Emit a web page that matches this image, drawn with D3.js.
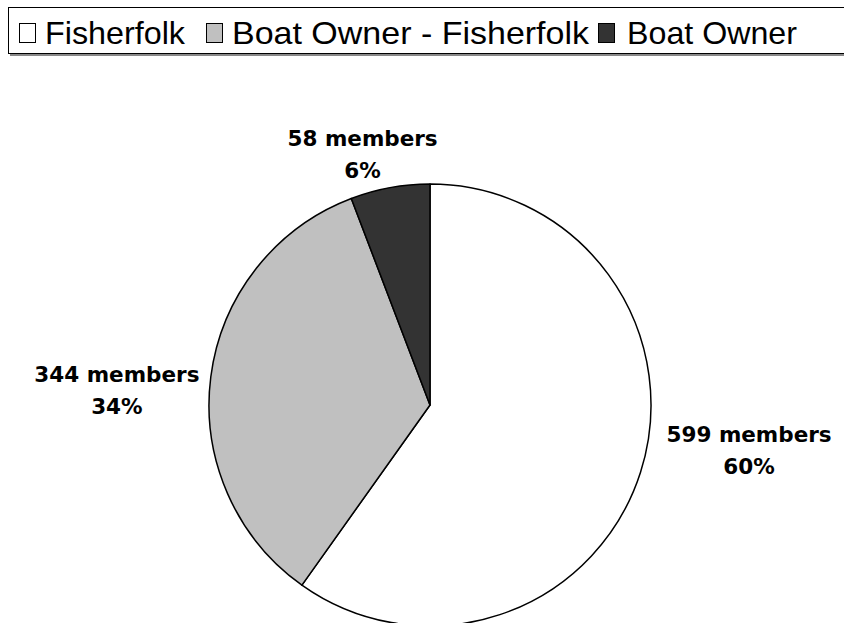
<!DOCTYPE html>
<html>
<head>
<meta charset="utf-8">
<script src="https://cdn.jsdelivr.net/npm/d3@7"></script>
<style>
  html, body { margin: 0; padding: 0; background: #fff; }
  svg { display: block; }
</style>
</head>
<body>
<svg id="chart" width="844" height="623"></svg>
<script>
// Membership by category
const categories = ["Fisherfolk", "Boat Owner - Fisherfolk", "Boat Owner"];
const members = [599, 344, 58];
const percents = [60, 34, 6];
const fills = ["#ffffff", "#c0c0c0", "#333333"];

const svg = d3.select("#chart");
const W = 844, H = 623;
const cx = 430, cy = 405, radius = 221;

// ---- legend ----
const legend = svg.append("g");
legend.append("rect")
  .attr("x", 10).attr("y", 9).attr("width", 850).attr("height", 47)
  .attr("fill", "#888");
legend.append("rect")
  .attr("x", 8.5).attr("y", 7.5).attr("width", 850).attr("height", 46)
  .attr("fill", "#fff").attr("stroke", "#000").attr("stroke-width", 1);

const legendLayout = [
  { sq: 19, tx: 45, len: 140 },
  { sq: 206, tx: 232, len: 357 },
  { sq: 598, tx: 627, len: 170 }
];
categories.forEach((c, i) => {
  const L = legendLayout[i];
  legend.append("rect")
    .attr("x", L.sq + 0.5).attr("y", 23.5).attr("width", 16).attr("height", 19)
    .attr("fill", fills[i]).attr("stroke", "#000").attr("stroke-width", 1);
  legend.append("text")
    .attr("x", L.tx).attr("y", 44)
    .attr("font-family", "'Liberation Sans', Arial, sans-serif")
    .attr("font-size", 32)
    .attr("textLength", L.len)
    .attr("lengthAdjust", "spacingAndGlyphs")
    .attr("fill", "#000")
    .text(c);
});

// ---- pie ----
const pie = d3.pie().sort(null).value(d => d)(members);
const arc = d3.arc().innerRadius(0).outerRadius(radius);

const g = svg.append("g").attr("transform", `translate(${cx},${cy})`);
g.selectAll("path.slice")
  .data(pie)
  .join("path")
  .attr("class", "slice")
  .attr("d", arc)
  .attr("fill", (d, i) => fills[i])
  .attr("stroke", "#000")
  .attr("stroke-width", 1.5)
  .attr("stroke-linejoin", "round");

// ---- data labels, placed just outside each slice ----
// polar placement: angle shift (deg) and distance (in radii) of each label block centre
const labelPlacement = [
  { shift: -10.6, dist: 1.455 },
  { shift: -3.5, dist: 1.42 },
  { shift: -4.3, dist: 1.2 }
];
pie.forEach((d, i) => {
  const mid = (d.startAngle + d.endAngle) / 2 + labelPlacement[i].shift * Math.PI / 180;
  const dist = labelPlacement[i].dist * radius;
  const x = Math.sin(mid) * dist;
  const y = -Math.cos(mid) * dist;
  const t = g.append("text")
    .attr("x", x).attr("y", y)
    .attr("text-anchor", "middle")
    .attr("font-family", "'DejaVu Sans', Verdana, sans-serif")
    .attr("font-weight", "bold")
    .attr("font-size", 21.5)
    .attr("fill", "#000");
  t.append("tspan").attr("x", x).attr("dy", "-0.12em").text(`${members[i]} members`);
  t.append("tspan").attr("x", x).attr("dy", 32).text(`${percents[i]}%`);
});
</script>
</body>
</html>
